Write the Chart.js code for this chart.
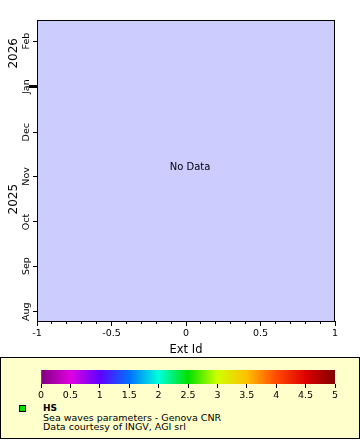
<!DOCTYPE html>
<html>
<head>
<meta charset="utf-8">
<script src="https://cdn.jsdelivr.net/npm/chart.js@4/dist/chart.umd.min.js"></script>
<style>
html,body{margin:0;padding:0;background:#fff;}
body{width:360px;height:440px;position:relative;overflow:hidden;font-family:"DejaVu Sans",sans-serif;color:#000;}
#main{position:absolute;left:0;top:0;}
#legend{position:absolute;left:0;top:357px;width:360px;height:82px;box-sizing:border-box;border:1px solid #000;background:#ffffcc;}
#cbar{position:absolute;left:0;top:357px;z-index:2;}
.t{position:absolute;white-space:nowrap;z-index:3;}
#marker{position:absolute;left:19px;top:405px;width:7px;height:7px;box-sizing:border-box;border:1px solid #000;background:#00e000;z-index:3;}
</style>
</head>
<body>
<canvas id="main" width="360" height="357"></canvas>
<div id="legend"></div>
<canvas id="cbar" width="360" height="45"></canvas>
<div id="marker"></div>
<div class="t" id="lgName" style="left:43px;top:402px;line-height:12px;font-size:9px;font-weight:bold;"></div>
<div class="t" id="lgLine1" style="left:43px;top:412px;line-height:11px;font-size:9.5px;"></div>
<div class="t" id="lgLine2" style="left:43px;top:420.5px;line-height:11px;font-size:9.5px;"></div>
<script>
// ---------- data ----------
const extIds = [];          // x values of samples (none available)
const sampleTimes = [];     // sample dates (none available)
const hsValues = [];        // HS values (none available)
const yRange = ['2025-07-25T17:00:00Z', '2026-02-15T07:00:00Z'];
const yMonthTicks = ['2025-08-01','2025-09-01','2025-10-01','2025-11-01','2025-12-01','2026-01-01','2026-02-01'];
const yMonthLabels = ['Aug','Sep','Oct','Nov','Dec','Jan','Feb'];
const yearLabels = ['2025','2026'];
const markedDate = '2026-01-01';
const xRange = [-1, 1];
const xMajorTicks = [-1, -0.5, 0, 0.5, 1];
const xTickLabels = ['-1','-0.5','0','0.5','1'];
const xTitle = 'Ext Id';
const cbarTicks = [0,0.5,1,1.5,2,2.5,3,3.5,4,4.5,5];
const cbarTickLabels = ['0','0.5','1','1.5','2','2.5','3','3.5','4','4.5','5'];
const cbarColors = ['#800080','#e000e0','#6000ff','#0070ff','#00ffdc','#00e000','#d0ff00','#ffc000','#ff4a00','#e00000','#800000'];
const seriesName = 'HS';
const seriesDesc = ['Sea waves parameters - Genova CNR', 'Data courtesy of INGV, AGI srl'];
const noDataText = 'No Data';

// ---------- helpers ----------
const DAY = 86400000;
const toDay = s => Date.parse(s.length === 10 ? s + 'T00:00:00Z' : s) / DAY;
const yMin = toDay(yRange[0]), yMax = toDay(yRange[1]);
const yTickDays = yMonthTicks.map(toDay);
const markDay = toDay(markedDate);
const xMinorTicks = Array.from({length: 21}, (_, i) => Math.round((xRange[0] + i * 0.1) * 10) / 10);
const isMajor = v => xMajorTicks.some(m => Math.abs(m - v) < 1e-9);

Chart.defaults.font.family = '"DejaVu Sans", sans-serif';
Chart.defaults.color = '#000';

document.getElementById('lgName').textContent = seriesName;
document.getElementById('lgLine1').textContent = seriesDesc[0];
document.getElementById('lgLine2').textContent = seriesDesc[1];

function hsColor(v) {
  const i = Math.max(0, Math.min(cbarColors.length - 1, Math.round(v / 0.5)));
  return cbarColors[i];
}

const plotDecor = {
  id: 'plotDecor',
  beforeDraw(chart) {
    const a = chart.chartArea, ctx = chart.ctx;
    ctx.save();
    ctx.fillStyle = '#ccccff';
    ctx.fillRect(a.left, a.top, a.right - a.left, a.bottom - a.top);
    ctx.restore();
  },
  afterDraw(chart) {
    const a = chart.chartArea, ctx = chart.ctx, ys = chart.scales.y;
    ctx.save();
    ctx.strokeStyle = '#000';
    ctx.lineWidth = 1;
    ctx.strokeRect(a.left + 0.5, a.top + 0.5, a.right - a.left - 1, a.bottom - a.top);
    // month labels
    ctx.fillStyle = '#000';
    ctx.textAlign = 'center';
    ctx.textBaseline = 'middle';
    ctx.font = '9.5px "DejaVu Sans"';
    yTickDays.forEach((d, i) => {
      const py = ys.getPixelForValue(d);
      ctx.save();
      ctx.translate(ys.right - 10, py);
      ctx.rotate(-Math.PI / 2);
      ctx.fillText(yMonthLabels[i], 0, 0);
      ctx.restore();
    });
    // year labels
    ctx.font = '12px "DejaVu Sans"';
    yearLabels.forEach(yl => {
      const ys0 = toDay(yl + '-01-01'), ye0 = toDay((+yl + 1) + '-01-01');
      let lo = ys0 >= yMin ? ys0 : yTickDays.find(d => d >= yMin);
      let hi = Math.min(ye0, yMax);
      const py = (ys.getPixelForValue(lo) + ys.getPixelForValue(hi)) / 2;
      ctx.save();
      ctx.translate(ys.left + 13.5, py);
      ctx.rotate(-Math.PI / 2);
      ctx.fillText(yl, 0, 0);
      ctx.restore();
    });
    // no data
    if (chart.data.datasets[0].data.length === 0) {
      ctx.font = '10px "DejaVu Sans"';
      ctx.textBaseline = 'alphabetic';
      ctx.fillText(noDataText, (a.left + a.right) / 2 + 4, (a.top + a.bottom) / 2 - 1);
    }
    ctx.restore();
  }
};

new Chart(document.getElementById('main'), {
  type: 'scatter',
  data: {
    datasets: [{
      label: seriesName,
      data: extIds.map((x, i) => ({x: x, y: toDay(sampleTimes[i])})),
      pointBackgroundColor: hsValues.map(hsColor),
      pointRadius: 2,
      borderWidth: 0
    }]
  },
  options: {
    responsive: false,
    animation: false,
    devicePixelRatio: 1,
    events: [],
    layout: {padding: {left: 0, top: 20, right: 25, bottom: 0}},
    plugins: {legend: {display: false}, tooltip: {enabled: false}},
    scales: {
      x: {
        type: 'linear', min: xRange[0], max: xRange[1],
        afterBuildTicks: s => { s.ticks = xMinorTicks.map(v => ({value: v})); },
        ticks: {
          autoSkip: false, maxRotation: 0, minRotation: 0, padding: 2, color: '#000',
          font: {size: 9.5},
          callback: v => { const i = xMajorTicks.findIndex(m => Math.abs(m - v) < 1e-9); return i >= 0 ? xTickLabels[i] : ''; }
        },
        grid: {
          drawOnChartArea: false, drawTicks: true, tickLength: 5, tickColor: '#000', tickWidth: 1,
          tickBorderDash: c => (c.tick && isMajor(c.tick.value)) ? [] : [3, 100]
        },
        border: {display: false},
        title: {display: true, text: xTitle, color: '#000', font: {size: 11.5}, padding: {top: 0, bottom: 0}},
        afterFit: s => { s.height = 36; }
      },
      y: {
        type: 'linear', min: yMin, max: yMax,
        afterBuildTicks: s => { s.ticks = yTickDays.map(v => ({value: v})); },
        ticks: {display: false},
        grid: {
          drawOnChartArea: false, drawTicks: true, tickLength: 8, tickColor: '#000',
          tickWidth: c => (c.tick && c.tick.value === markDay) ? 3 : 1,
          tickBorderDash: c => (c.tick && c.tick.value === markDay) ? [] : [4, 100],
          tickBorderDashOffset: c => (c.tick && c.tick.value === markDay) ? 0 : 100
        },
        border: {display: false},
        afterFit: s => { s.width = 37; }
      }
    }
  },
  plugins: [plotDecor]
});

function cbarGradient(chart) {
  const xs = chart.scales.x;
  if (!chart.chartArea || !xs) return cbarColors[0];
  const x0 = xs.getPixelForValue(cbarTicks[0]);
  const x1 = xs.getPixelForValue(cbarTicks[cbarTicks.length - 1]);
  const g = chart.ctx.createLinearGradient(x0, 0, x1, 0);
  const span = cbarTicks[cbarTicks.length - 1] - cbarTicks[0];
  cbarTicks.forEach((v, i) => g.addColorStop((v - cbarTicks[0]) / span, cbarColors[i]));
  return g;
}

new Chart(document.getElementById('cbar'), {
  type: 'bar',
  data: {
    labels: [seriesName],
    datasets: [{
      data: [[cbarTicks[0], cbarTicks[cbarTicks.length - 1]]],
      backgroundColor: c => cbarGradient(c.chart),
      borderWidth: 0,
      barPercentage: 1,
      categoryPercentage: 1
    }]
  },
  options: {
    indexAxis: 'y',
    responsive: false,
    animation: false,
    devicePixelRatio: 1,
    events: [],
    layout: {padding: {left: 41, right: 25, top: 13, bottom: 0}},
    plugins: {legend: {display: false}, tooltip: {enabled: false}},
    scales: {
      x: {
        type: 'linear', min: cbarTicks[0], max: cbarTicks[cbarTicks.length - 1],
        afterBuildTicks: s => { s.ticks = cbarTicks.map(v => ({value: v})); },
        ticks: {autoSkip: false, maxRotation: 0, minRotation: 0, padding: 2, color: '#000', font: {size: 9.5},
          callback: (v, i) => cbarTickLabels[i]},
        grid: {drawOnChartArea: false, tickLength: 4, tickColor: '#000'},
        border: {display: false},
        afterFit: s => { s.height = 18; }
      },
      y: {display: false}
    }
  }
});
</script>
</body>
</html>
